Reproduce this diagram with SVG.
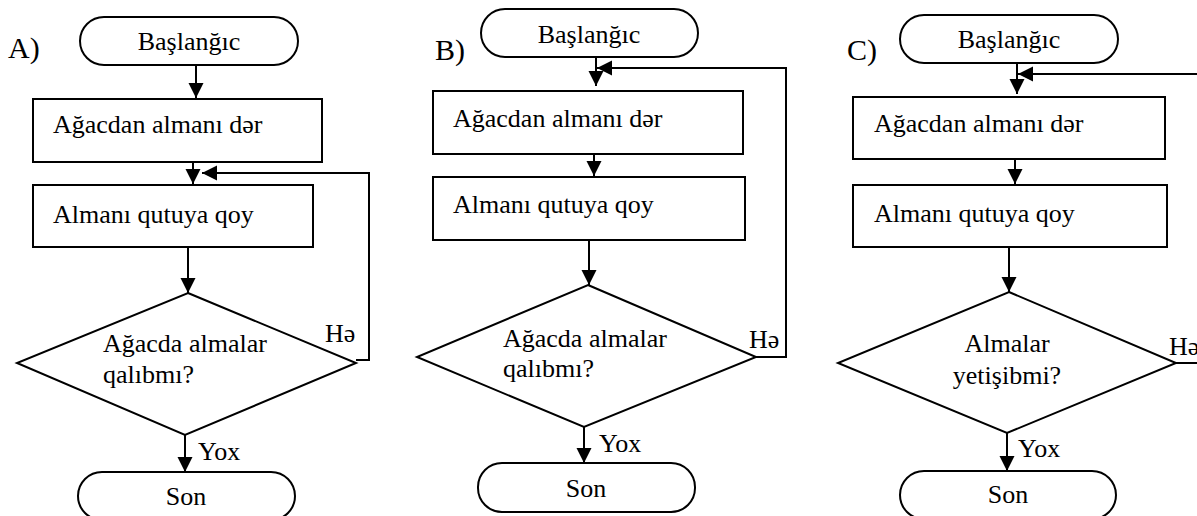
<svg xmlns="http://www.w3.org/2000/svg" width="1197" height="516" viewBox="0 0 1197 516" font-family="'Liberation Serif','Times New Roman',serif" font-size="26">
<style>
.s{fill:#fff;stroke:#000;stroke-width:2}
.c{fill:none;stroke:#000;stroke-width:2}
text{font-family:'Liberation Serif','Times New Roman',serif;font-size:26px;fill:#000}
.m{text-anchor:middle}
.lab{font-size:30px}
</style>
<defs>
<marker id="ah" markerUnits="userSpaceOnUse" markerWidth="16" markerHeight="16" refX="15" refY="7.5" orient="auto" viewBox="0 0 16 16">
<path d="M0,0 L15,7.5 L0,15 z" fill="#000"/>
</marker>
</defs>
<rect width="1197" height="516" fill="#fff"/>

<g id="A">
<text class="lab" x="8" y="58">A)</text>
<g id="A-start"><rect class="s" x="80" y="17" width="218" height="48" rx="24"/><text class="m" x="189" y="50">Başlanğıc</text></g>
<g id="A-pick"><rect class="s" x="33" y="99" width="289" height="63"/><text x="53" y="133">Ağacdan almanı dər</text></g>
<g id="A-box"><rect class="s" x="33" y="185" width="280" height="62"/><text x="53" y="223">Almanı qutuya qoy</text></g>
<g id="A-cond"><polygon class="s" points="188,293 356,363 185,435 17,363"/><text x="103" y="352">Ağacda almalar</text><text x="103" y="383">qalıbmı?</text></g>
<g id="A-end"><rect class="s" x="78" y="472" width="217" height="48" rx="24"/><text class="m" x="186" y="505">Son</text></g>
</g>

<g id="B">
<text class="lab" x="435" y="60">B)</text>
<g id="B-start"><rect class="s" x="481" y="9" width="217" height="48" rx="24"/><text class="m" x="589" y="43">Başlanğıc</text></g>
<g id="B-pick"><rect class="s" x="433" y="91" width="310" height="63"/><text x="453" y="127">Ağacdan almanı dər</text></g>
<g id="B-box"><rect class="s" x="433" y="177" width="312" height="63"/><text x="453" y="213">Almanı qutuya qoy</text></g>
<g id="B-cond"><polygon class="s" points="588,285 756,357 584,427 417,357"/><text x="503" y="347">Ağacda almalar</text><text x="503" y="377">qalıbmı?</text></g>
<g id="B-end"><rect class="s" x="478" y="463" width="217" height="49" rx="24"/><text class="m" x="586" y="497">Son</text></g>
</g>

<g id="C">
<text class="lab" x="847" y="60">C)</text>
<g id="C-start"><rect class="s" x="900" y="15" width="218" height="48" rx="24"/><text class="m" x="1009" y="48">Başlanğıc</text></g>
<g id="C-pick"><rect class="s" x="853" y="97" width="312" height="62"/><text x="874" y="132">Ağacdan almanı dər</text></g>
<g id="C-box"><rect class="s" x="853" y="185" width="314" height="62"/><text x="874" y="222">Almanı qutuya qoy</text></g>
<g id="C-cond"><polygon class="s" points="1009,292 1176,363 1007,433 838,363"/><text class="m" x="1007" y="352">Almalar</text><text class="m" x="1007" y="384">yetişibmi?</text></g>
<g id="C-end"><rect class="s" x="900" y="471" width="216" height="48" rx="24"/><text class="m" x="1008" y="503">Son</text></g>
</g>

<g id="connectors">
<path class="c" d="M196,65 V98" marker-end="url(#ah)"/>
<path class="c" d="M193,162 V184" marker-end="url(#ah)"/>
<path class="c" d="M356,360 H369 V173 H202" marker-end="url(#ah)"/>
<path class="c" d="M188,247 V293" marker-end="url(#ah)"/>
<path class="c" d="M185,435 V472" marker-end="url(#ah)"/>

<path class="c" d="M596,57 V86" marker-end="url(#ah)"/>
<path class="c" d="M594,154 V176" marker-end="url(#ah)"/>
<path class="c" d="M756,357 H786 V68 H597" marker-end="url(#ah)"/>
<path class="c" d="M589,240 V285" marker-end="url(#ah)"/>
<path class="c" d="M584,427 V463" marker-end="url(#ah)"/>

<path class="c" d="M1017,63 V94" marker-end="url(#ah)"/>
<path class="c" d="M1015,159 V184" marker-end="url(#ah)"/>
<path class="c" d="M1176,363 H1210 V74 H1018" marker-end="url(#ah)"/>
<path class="c" d="M1009,247 V292" marker-end="url(#ah)"/>
<path class="c" d="M1007,433 V471" marker-end="url(#ah)"/>

<text x="325" y="342">Hə</text>
<text x="198" y="460">Yox</text>
<text x="749" y="348">Hə</text>
<text x="599" y="452">Yox</text>
<text x="1169" y="355">Hə</text>
<text x="1018" y="457">Yox</text>
</g>
</svg>
